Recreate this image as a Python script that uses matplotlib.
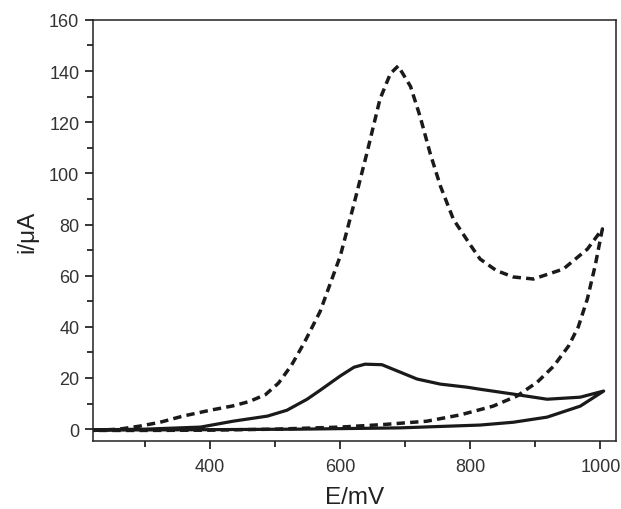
import matplotlib
matplotlib.use("Agg")
import matplotlib.pyplot as plt
from matplotlib.ticker import MultipleLocator

plt.rcParams["font.family"] = ["Liberation Sans", "DejaVu Sans"]

# ------------------------------------------------
# DATA
# ------------------------------------------------

# dashed curve: forward branch then reverse branch
dash_E = [220, 260, 292, 323, 358, 400, 435, 460, 485, 505, 525, 545, 569, 600, 620, 641,
          661, 677, 689, 708, 723, 738, 754, 774, 800, 815, 840, 866, 897, 943, 980, 1003,
          992, 980, 966, 951, 928, 903, 872, 835, 785, 733, 666, 600, 500, 400, 300, 220]
dash_i = [-0.5, 0.0, 1.2, 2.7, 5.1, 7.4, 9.1, 10.8, 13.5, 18.0, 25.0, 34.0, 46.0, 67.7, 87.0, 108.0,
          129.0, 139.0, 142.0, 134.0, 122.0, 108.0, 95.0, 82.0, 72.0, 66.5, 62.0, 59.5, 58.7, 62.6, 70.4, 78.3,
          64.0, 51.0, 40.0, 32.5, 24.6, 18.4, 13.0, 9.0, 5.6, 3.1, 1.8, 0.8, 0.0, -0.4, -0.5, -0.5]

# solid curve: forward branch then reverse branch
solid_E = [220, 300, 385, 435, 488, 518, 549, 569, 600, 621, 638, 664, 692, 718, 754,
           795, 815, 866, 918, 969, 1005,
           969, 918, 866, 815, 692, 538, 400, 300, 220]
solid_i = [-0.3, 0.0, 0.8, 3.1, 5.1, 7.4, 11.7, 15.2, 20.8, 24.2, 25.4, 25.2, 22.3, 19.6, 17.6,
           16.4, 15.6, 13.7, 11.7, 12.5, 14.9,
           9.0, 4.7, 2.7, 1.6, 0.5, 0.0, -0.2, -0.3, -0.3]

# ------------------------------------------------
# PLOT
# ------------------------------------------------

fig = plt.figure(figsize=(6.21, 5.10), dpi=100)
ax = fig.add_axes([0.150, 0.133, 0.842, 0.826])

ax.plot(dash_E, dash_i, color="#1a1a1a", lw=2.5, dashes=(2.4, 1.5))
ax.plot(solid_E, solid_i, color="#1a1a1a", lw=2.3)

ax.set_xlim(220, 1024)
ax.set_ylim(-4.7, 160)

ax.xaxis.set_major_locator(MultipleLocator(200))
ax.xaxis.set_minor_locator(MultipleLocator(100))
ax.yaxis.set_major_locator(MultipleLocator(20))
ax.yaxis.set_minor_locator(MultipleLocator(10))

ax.tick_params(which="major", direction="out", length=6, width=1.1,
               labelsize=13, labelcolor="#333333", pad=4)
ax.tick_params(which="minor", direction="out", length=4, width=1.1)
ax.tick_params(axis="x", which="major", pad=6)

for s in ax.spines.values():
    s.set_linewidth(1.1)
    s.set_color("#222222")

ax.set_xlabel("E/mV", fontsize=17.5, color="#222222", labelpad=8)
ax.set_ylabel("i/μA", fontsize=17.5, color="#222222", labelpad=8)

fig.savefig("out.png", dpi=100)
plt.close(fig)
print("Saved: out.png")
